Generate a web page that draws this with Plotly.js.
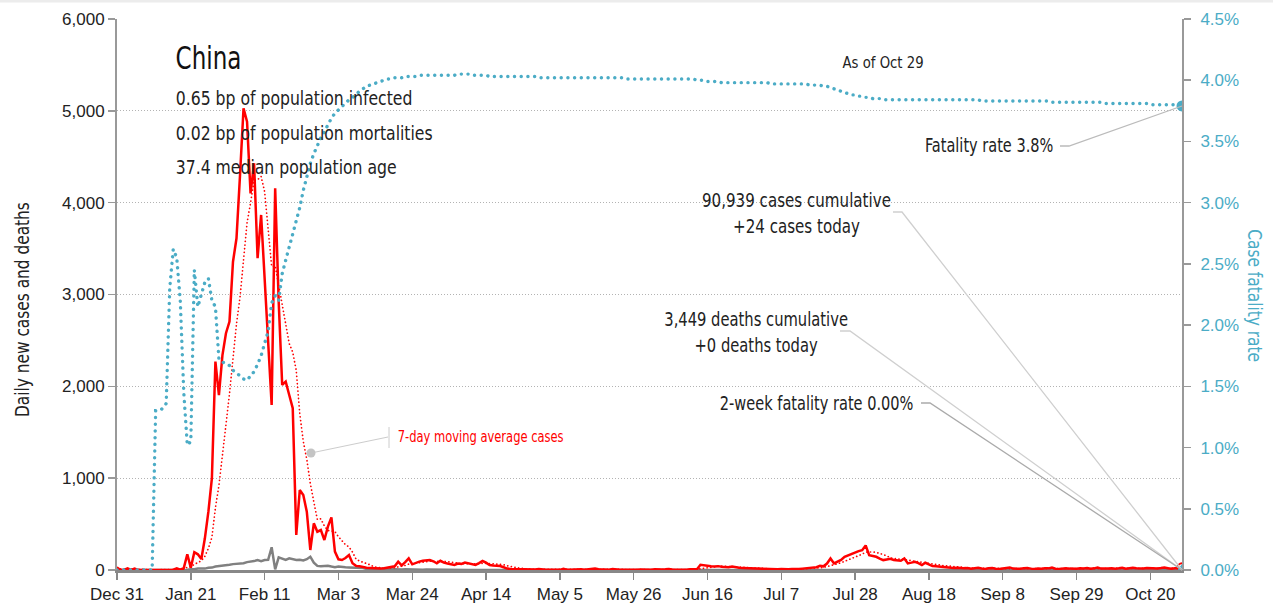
<!DOCTYPE html>
<html><head><meta charset="utf-8">
<script src="https://cdn.plot.ly/plotly-3.0.1.min.js"></script>
<style>html,body{margin:0;padding:0;background:#fff;}#chart{width:1273px;height:611px;}</style>
</head><body><div id="chart"></div>
<script>
// ---------------- data ----------------
const startDate = '2019-12-31';
const tickLabels = ['Dec 31','Jan 21','Feb 11','Mar 3','Mar 24','Apr 14','May 5','May 26','Jun 16','Jul 7','Jul 28','Aug 18','Sep 8','Sep 29','Oct 20'];

// daily new cases, one value per day from Dec 31
const dailyCases = [
 27,0,0,17,0,15,0,0,0,0,
 0,0,0,1,0,0,4,17,4,20,
 171,25,193,171,120,345,635,1000,2270,1905,
 2340,2578,2705,3357,3612,4300,5028,4882,4100,4430,
 3395,3866,3140,2414,1797,4157,2922,2015,2051,1906,
 1761,381,871,817,635,218,508,417,435,327,
 472,573,200,116,109,130,163,73,45,40,
 30,25,22,18,15,15,20,25,35,40,
 91,50,85,127,62,80,91,100,105,109,
 95,73,100,80,70,60,55,70,65,80,
 70,60,55,75,98,80,55,50,45,44,
 30,15,
 12,10,8,11,6,5,3,6,12,4,
 3,2,4,1,2,14,3,2,5,3,
 8,3,5,7,17,8,4,6,3,11,
 5,4,3,2,4,5,3,6,3,5,
 4,7,3,5,7,11,6,4,3,2,
 4,7,11,8,
 57,49,44,40,38,42,36,32,30,38,
 28,24,22,20,18,15,12,10,12,9,
 8,10,7,12,8,9,11,8,10,
 15,20,25,22,30,45,40,70,126,72,
 90,110,144,160,180,190,205,216,268,162,
 155,144,125,108,115,122,110,108,100,126,
 72,80,90,75,54,79,60,43,40,35,
 29,30,25,22,24,20,
 18,22,15,20,25,16,12,18,21,14,
 10,16,20,28,15,12,14,19,22,15,
 11,16,13,20,18,26,14,12,17,20,
 15,11,14,19,16,22,13,18,27,15,
 12,16,20,14,18,24,15,20,25,18,
 13,16,22,19,24,17,21,27,20,15,
 19,25,24
];

// daily new deaths
const dailyDeaths = [
 0,0,0,0,0,0,0,0,0,0,
 0,1,0,0,0,0,0,1,0,1,
 3,9,8,16,15,15,25,26,38,43,
 46,45,57,64,65,73,73,86,89,97,
 108,97,108,110,247,7,138,125,110,127,
 115,108,112,105,118,145,80,45,40,42,
 47,38,31,38,31,30,28,27,22,17,
 22,11,7,13,10,14,13,11,8,3,
 7,6,9,7,4,6,5,3,5,4,
 4,3,3,2,2,1,1,2,1,1,
 1,1,0,1,0,0,1,0,0,0,
 0,0,0,0,0,0,0,0,0,0,
 0,0,0,0,0,0,0,0,0,0,
 0,0,0,0,0,0,0,0,0,0,
 0,0,0,0,0,0,0,0,0,0,
 0,0,0,0,0,0,0,0,0,0,
 0,0,0,0,0,0,0,0,0,0,
 0,0,0,0,0,0,0,0,0,0,
 0,0,0,0,0,0,0,0,0,0,
 0,0,0,0,0,0,0,0,0,0,
 0,0,0,0,0,0,0,0,0,0,
 0,0,0,0,0,0,0,0,0,0,
 0,0,0,0,0,0,0,0,0,0,
 0,0,0,0,0,0,0,0,0,0,
 0,0,0,0,0,0,0,0,0,0,
 0,0,0,0,0,0,0,0,0,0,
 0,0,0,0,0,0,0,0,0,0,
 0,0,0,0,0,0,0,0,0,0,
 0,0,0,0,0,0,0,0,0,0,
 0,0,0,0,0,0,0,0,0,0,
 0,0,0,0
];

// cumulative case fatality rate, percent
const fatalityRatePct = [
 0,0,0,0,0,0,0,0,0,0,0,
 1.30,1.30,1.32,1.36,2.30,2.62,2.55,2.20,1.45,1.02,
 1.05,2.45,2.15,2.25,2.35,2.38,2.20,2.15,1.72,1.70,
 1.68,1.67,1.63,1.61,1.58,1.56,1.55,1.58,1.62,1.68,
 1.75,1.85,1.95,2.18,2.24,2.20,2.42,2.53,2.64,2.73,
 2.84,2.96,3.10,3.22,3.32,3.40,3.47,3.53,3.58,3.64,
 3.69,3.73,3.76,3.79,3.82,3.84,3.86,3.89,3.91,3.93,
 3.95,3.96,3.97,3.98,3.99,4.00,4.01,4.01,4.02,4.02,
 4.02,4.03,4.03,4.03,4.03,4.04,4.04,4.04,4.04,4.04,
 4.04,4.04,4.04,4.04,
 4.04,4.04,4.05,4.05,4.05,4.05,4.04,4.04,4.04,4.04,
 4.04,4.03,4.03,4.03,4.03,4.03,4.03,4.03,4.03,4.03,
 4.03,4.03,4.03,4.03,4.03,4.02,4.02,4.02,4.02,4.02,
 4.02,4.02,4.02,4.02,4.02,4.02,4.02,4.02,4.02,4.02,
 4.02,4.02,4.02,4.02,4.02,4.02,4.02,4.02,4.02,4.02,
 4.01,4.01,4.01,4.01,4.01,4.01,4.01,4.01,4.01,4.01,
 4.01,4.01,4.01,4.01,4.01,4.01,4.01,4.01,4.01,4.01,
 4.00,
 4.00,4.00,3.99,3.99,3.99,3.99,3.98,3.98,3.98,3.98,
 3.98,3.98,3.98,3.98,3.98,3.98,3.98,3.98,3.98,3.98,
 3.97,3.97,3.97,3.97,3.97,3.97,3.97,3.97,3.97,3.97,
 3.97,3.96,3.96,3.96,
 3.96,3.95,3.95,3.94,3.93,3.92,3.91,3.90,3.89,3.88,
 3.88,3.87,3.87,3.86,3.86,3.85,3.85,3.85,3.84,3.84,
 3.84,3.84,3.84,3.84,3.84,3.84,
 3.84,3.84,3.84,3.84,3.84,3.84,3.84,3.84,3.84,3.84,
 3.84,3.84,3.84,3.84,3.84,3.84,3.84,3.84,3.84,3.84,
 3.83,3.83,3.83,3.83,3.83,3.83,3.83,3.83,3.83,3.83,
 3.83,3.83,3.83,3.83,3.83,3.83,3.83,3.83,3.83,3.83,
 3.82,3.82,3.82,3.82,3.82,3.82,3.82,3.82,3.82,3.82,
 3.82,3.82,3.82,3.82,3.82,
 3.81,3.81,3.81,3.81,3.81,3.81,3.81,3.81,3.81,3.81,
 3.81,3.81,3.81,
 3.80,3.80,3.80,3.80,3.80,3.80,3.80,3.80,
 3.79,3.79
];
const twoWeekFatalityPct = 0.00;

const countryName = 'China';
const infoLines = ['0.65 bp of population infected','0.02 bp of population mortalities','37.4 median population age'];
const asOfText = 'As of Oct 29';
const fatalityText = 'Fatality rate 3.8%';
const casesText = '90,939 cases cumulative<br>+24 cases today';
const deathsText = '3,449 deaths cumulative<br>+0 deaths today';
const twoWeekText = '2-week fatality rate 0.00%';
const maText = '7-day moving average cases';
const leftAxisTitle = 'Daily new cases and deaths';
const rightAxisTitle = 'Case fatality rate';

// ---------------- derived ----------------
const DAY = 86400000;
const t0 = Date.parse(startDate + 'T00:00:00Z');
const dateOf = i => new Date(t0 + i * DAY).toISOString().slice(0, 10);
const xCases = dailyCases.map((_, i) => dateOf(i));
const xDeaths = dailyDeaths.map((_, i) => dateOf(i));
const xCfr = fatalityRatePct.map((_, i) => dateOf(i));
const ma7 = dailyCases.map((_, i) => {
  const s = Math.max(0, i - 6);
  const w = dailyCases.slice(s, i + 1);
  return w.reduce((a, b) => a + b, 0) / w.length;
});
const lastDate = xCases[xCases.length - 1];
const tickVals = tickLabels.map((_, k) => dateOf(k * 21));

// ---------------- style ----------------
const NARROW = '"Liberation Sans Narrow", "Arial Narrow", "DejaVu Sans Condensed", sans-serif';
const REG = '"Liberation Sans", Arial, sans-serif';
const CYAN = '#4bacc6';
const DARK = '#222';
const L = 117, R = 1182, T = 19, B = 570;
const px = x => (x - L) / (R - L);
const py = y => (B - y) / (B - T);

const traces = [
  {x: xDeaths, y: dailyDeaths, type: 'scatter', mode: 'lines', line: {color: '#808080', width: 2.5}, hoverinfo: 'skip'},
  {x: xCases, y: ma7, type: 'scatter', mode: 'lines', line: {color: '#ff0000', width: 1.7, dash: 'dot'}, hoverinfo: 'skip'},
  {x: xCases, y: dailyCases, type: 'scatter', mode: 'lines', line: {color: '#ff0000', width: 2.5}, hoverinfo: 'skip'},
  {x: [lastDate], y: [dailyCases[dailyCases.length - 1]], type: 'scatter', mode: 'markers',
   marker: {symbol: 'circle-open', size: 9, color: '#ff0000', line: {width: 2, color: '#ff0000'}}, hoverinfo: 'skip'},
  {x: xCfr, y: fatalityRatePct, yaxis: 'y2', type: 'scatter', mode: 'lines', line: {color: CYAN, width: 3.4, dash: 'dot'}, hoverinfo: 'skip'},
  {x: [lastDate], y: [fatalityRatePct[fatalityRatePct.length - 1]], yaxis: 'y2', type: 'scatter', mode: 'markers',
   marker: {symbol: 'circle', size: 11, color: CYAN}, hoverinfo: 'skip'},
  {x: [lastDate], y: [twoWeekFatalityPct], yaxis: 'y2', type: 'scatter', mode: 'markers',
   marker: {symbol: 'triangle-up', size: 12, color: CYAN}, hoverinfo: 'skip'}
];

const lineShape = (pts, color, w) => ({
  type: 'path', xref: 'paper', yref: 'paper', layer: 'above',
  path: pts.map((p, i) => (i ? 'L' : 'M') + px(p[0]) + ',' + py(p[1])).join(' '),
  line: {color: color, width: w || 1.3}
});

const shapes = [
  lineShape([[1060,146],[1069,146],[R,106]], '#bbb'),
  lineShape([[893,212],[902,212],[R,B]], '#cfcfcf'),
  lineShape([[840,331],[850,331],[R,B]], '#cfcfcf'),
  lineShape([[921,403],[930,403],[R,B]], '#aaa'),
  lineShape([[311,453],[388,437]], '#ccc', 1),
  lineShape([[389,427],[389,448]], '#ccc', 1),
  {type: 'circle', xref: 'paper', yref: 'paper', layer: 'above',
   x0: px(306.5), x1: px(315.5), y0: py(457.5), y1: py(448.5),
   fillcolor: '#c4c4c4', line: {width: 0}},
  {type: 'rect', xref: 'paper', yref: 'paper', layer: 'below',
   x0: px(0), x1: px(1273), y0: py(0), y1: py(2.5), fillcolor: '#ececec', line: {width: 0}}
];

// [anchorX, anchorY, text, xanchor, size, color, squeeze]
const ann = (x, y, text, opts) => Object.assign({
  xref: 'paper', yref: 'paper', x: px(x), y: py(y), text: text, showarrow: false,
  xanchor: 'left', yanchor: 'middle', font: {family: NARROW, size: 20, color: DARK}
}, opts || {});

const annotations = [
  ann(174, 58, countryName, {font: {family: NARROW, size: 32, color: '#111'}}),
  ann(174, 98, infoLines[0]),
  ann(174, 133, infoLines[1]),
  ann(174, 167, infoLines[2]),
  ann(883, 63, asOfText, {xanchor: 'center', font: {family: NARROW, size: 16, color: DARK}}),
  ann(1055, 145, fatalityText, {xanchor: 'right', font: {family: NARROW, size: 19, color: DARK}}),
  ann(796, 213, casesText, {xanchor: 'center', align: 'center', font: {family: NARROW, size: 20, color: DARK}}),
  ann(756, 332, deathsText, {xanchor: 'center', align: 'center', font: {family: NARROW, size: 20, color: DARK}}),
  ann(915, 403, twoWeekText, {xanchor: 'right', font: {family: NARROW, size: 20, color: DARK}}),
  ann(396, 436, maText, {font: {family: NARROW, size: 16, color: '#ff0000'}}),
  ann(1255, 295, rightAxisTitle, {xanchor: 'center', textangle: 90, font: {family: NARROW, size: 19, color: CYAN}}),
  ann(22, 310, leftAxisTitle, {xanchor: 'center', textangle: -90, font: {family: NARROW, size: 19, color: DARK}})
];
// horizontal squeeze of each annotation to imitate the condensed face: [index, factor, anchor x, anchor y, direction]
const squeeze = [
  [0, 0.80, 174, 58, 'h'], [1, 0.87, 174, 98, 'h'], [2, 0.87, 174, 133, 'h'], [3, 0.87, 174, 167, 'h'],
  [4, 0.92, 883, 63, 'h'], [5, 0.85, 1055, 145, 'h'], [6, 0.84, 796, 213, 'h'], [7, 0.82, 756, 332, 'h'],
  [8, 0.81, 915, 403, 'h'], [9, 0.80, 396, 436, 'h'], [10, 0.90, 1255, 295, 'v'], [11, 0.90, 22, 310, 'v']
];

const layout = {
  width: 1273, height: 611,
  margin: {l: L, r: 1273 - R, t: T, b: 611 - B, pad: 0},
  paper_bgcolor: '#fff', plot_bgcolor: '#fff',
  showlegend: false,
  xaxis: {
    type: 'date', range: [startDate, '2020-10-29'],
    tickvals: tickVals, ticktext: tickLabels,
    showgrid: false, zeroline: false,
    showline: true, linecolor: '#888', linewidth: 2.5,
    ticks: 'outside', ticklen: 7, tickwidth: 1.5, tickcolor: '#888',
    tickfont: {family: REG, size: 17, color: DARK}
  },
  yaxis: {
    range: [0, 6000], dtick: 1000, tickformat: ',d',
    showgrid: true, gridcolor: '#b3b3b3', griddash: '1px,2px', gridwidth: 1,
    zeroline: false, showline: true, linecolor: '#999', linewidth: 2,
    ticks: 'outside', ticklen: 7, tickwidth: 1.5, tickcolor: '#999',
    tickfont: {family: REG, size: 17, color: DARK},
    automargin: false
  },
  yaxis2: {
    overlaying: 'y', side: 'right', range: [0, 4.5], dtick: 0.5,
    tickformat: '.1f', ticksuffix: '%',
    showgrid: false, zeroline: false, showline: true, linecolor: '#999', linewidth: 2,
    ticks: 'outside', ticklen: 7, tickwidth: 1.5, tickcolor: '#999',
    ticklabelstandoff: 6,
    tickfont: {family: REG, size: 17, color: CYAN},
    automargin: false
  },
  shapes: shapes,
  annotations: annotations
};

Plotly.newPlot('chart', traces, layout, {staticPlot: true, displayModeBar: false}).then(gd => {
  // round dotted lines
  gd.querySelectorAll('path.js-line').forEach(p => {
    const s = p.style.stroke.replace(/\s/g, '');
    if (s === 'rgb(75,172,198)') {
      p.style.strokeLinecap = 'round';
      p.style.strokeDasharray = '0.1px,6.6px';
    } else if (s === 'rgb(255,0,0)' && p.style.strokeDasharray && p.style.strokeDasharray !== 'none') {
      p.style.strokeLinecap = 'round';
      p.style.strokeDasharray = '0.1px,3.6px';
    }
  });
  // condensed look for the text blocks
  squeeze.forEach(([i, f, ax, ay, dir]) => {
    const g = gd.querySelector('.annotation[data-index="' + i + '"]');
    if (!g) return;
    const t = dir === 'h'
      ? 'translate(' + ax + ',0) scale(' + f + ',1) translate(' + (-ax) + ',0)'
      : 'translate(0,' + ay + ') scale(1,' + f + ') translate(0,' + (-ay) + ')';
    g.setAttribute('transform', t);
  });
});
</script>
</body></html>
